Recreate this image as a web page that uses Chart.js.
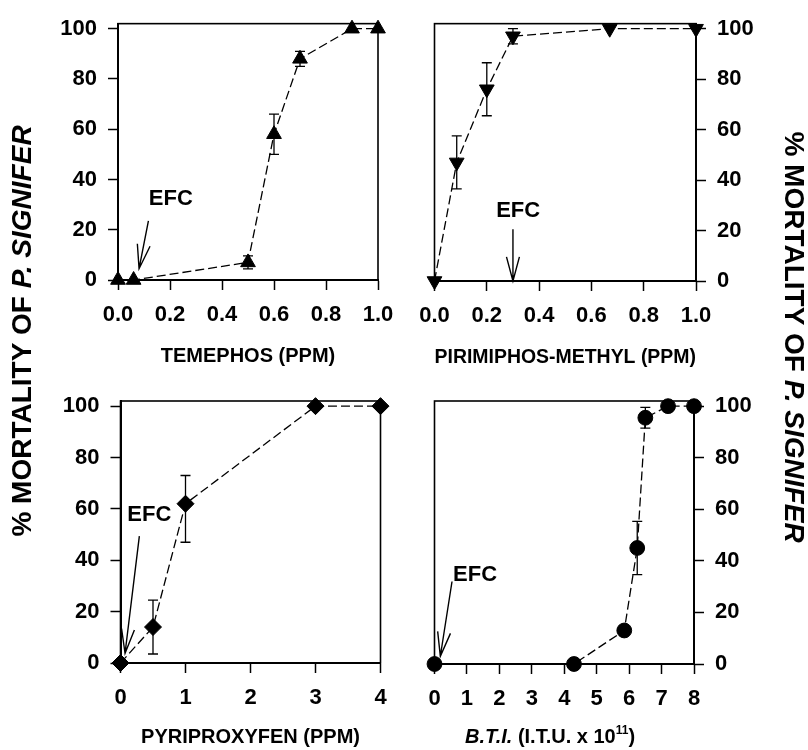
<!DOCTYPE html>
<html>
<head>
<meta charset="utf-8">
<script src="https://cdn.jsdelivr.net/npm/chart.js@4.4.0/dist/chart.umd.min.js"></script>
<style>
html,body{margin:0;padding:0;background:#fff;}
#wrap{position:relative;width:808px;height:750px;background:#fff;}
canvas{position:absolute;left:0;top:0;}
</style>
</head>
<body>
<div id="wrap">
<canvas id="c1" width="808" height="750"></canvas>
<canvas id="c2" width="808" height="750"></canvas>
<canvas id="c3" width="808" height="750"></canvas>
<canvas id="c4" width="808" height="750"></canvas>
</div>
<script>
// ---------- data ----------
const temephosX   = [0, 0.06, 0.5, 0.6, 0.7, 0.9, 1.0];
const temephosY   = [0, 0, 7, 58, 88, 100, 100];
const temephosErr = [0, 0, 2.6, 8, 3, 0, 0];

const pirimiphosX   = [0, 0.085, 0.2, 0.3, 0.67, 1.0];
const pirimiphosY   = [0, 47, 76, 97, 100, 100];
const pirimiphosErr = [0, 10.5, 10.5, 3, 0, 0];

const pyriproxyfenX       = [0, 0.5, 1, 3, 4];
const pyriproxyfenY       = [0, 14, 62, 100, 100];
const pyriproxyfenErrUp   = [0, 10.5, 11, 0, 0];
const pyriproxyfenErrDown = [0, 10.5, 15, 0, 0];

const btiX   = [0, 4.3, 5.85, 6.25, 6.5, 7.2, 8];
const btiY   = [0, 0, 13, 45, 95.5, 100, 100];
const btiErr = [0, 0, 0, 10.3, 4, 0, 0];

const mortalityTicks    = [0, 20, 40, 60, 80, 100];
const temephosTicks     = [0, 0.2, 0.4, 0.6, 0.8, 1.0];
const pirimiphosTicks   = [0, 0.2, 0.4, 0.6, 0.8, 1.0];
const pyriproxyfenTicks = [0, 1, 2, 3, 4];
const btiTicks          = [0, 1, 2, 3, 4, 5, 6, 7, 8];

const yTitleMain   = '% MORTALITY OF ';
const yTitleItalic = 'P. SIGNIFER';
// ---------------------------------------------------

const FONT = "'Liberation Sans', Arial, Helvetica, sans-serif";
Chart.defaults.font.family = FONT;
Chart.defaults.color = '#000';

function drawArrow(ctx, x1, y1, x2, y2) {
  ctx.save();
  ctx.strokeStyle = '#000';
  ctx.lineWidth = 1.4;
  ctx.beginPath();
  ctx.moveTo(x1, y1); ctx.lineTo(x2, y2);
  const ang = Math.atan2(y1 - y2, x1 - x2);
  const L = 25, a = 15 * Math.PI / 180;
  ctx.moveTo(x2 + L * Math.cos(ang - a), y2 + L * Math.sin(ang - a));
  ctx.lineTo(x2, y2);
  ctx.lineTo(x2 + L * Math.cos(ang + a), y2 + L * Math.sin(ang + a));
  ctx.stroke();
  ctx.restore();
}

function drawRichText(ctx, parts, cx, y, align) {
  let total = 0;
  parts.forEach(p => { ctx.font = p.font; p.w = ctx.measureText(p.text).width; total += p.w; });
  let x = align === 'center' ? cx - total / 2 : cx;
  parts.forEach(p => {
    ctx.font = p.font;
    ctx.fillText(p.text, x, y + (p.dy || 0));
    x += p.w;
  });
}

function makePanel(id, cfg) {
  const ctx = document.getElementById(id);
  const extras = {
    id: 'extras',
    beforeDatasetsDraw(chart) {
      const c = chart.ctx, ca = chart.chartArea;
      const xs = chart.scales.x, ys = chart.scales.y;
      c.save();
      c.strokeStyle = '#000';
      c.lineWidth = 1.6;
      c.strokeRect(ca.left, ca.top, ca.right - ca.left, ca.bottom - ca.top);
      c.lineWidth = 1.3;
      cfg.xs.forEach((xv, i) => {
        const up = cfg.errUp[i], dn = cfg.errDown[i];
        if (!up && !dn) return;
        const px = xs.getPixelForValue(xv);
        const pt = ys.getPixelForValue(cfg.ys[i] + up);
        const pb = ys.getPixelForValue(cfg.ys[i] - dn);
        c.beginPath();
        c.moveTo(px, pt); c.lineTo(px, pb);
        c.moveTo(px - 5, pt); c.lineTo(px + 5, pt);
        c.moveTo(px - 5, pb); c.lineTo(px + 5, pb);
        c.stroke();
      });
      c.restore();
    },
    afterDraw(chart) {
      const c = chart.ctx;
      const xs = chart.scales.x, ys = chart.scales.y;
      const e = cfg.efc;
      c.save();
      c.fillStyle = '#000';
      c.font = 'bold 22px ' + FONT;
      c.textAlign = 'center';
      c.textBaseline = 'middle';
      c.fillText('EFC', xs.getPixelForValue(e.label[0]), ys.getPixelForValue(e.label[1]));
      drawArrow(c, xs.getPixelForValue(e.tail[0]), ys.getPixelForValue(e.tail[1]),
                   xs.getPixelForValue(e.tip[0]), ys.getPixelForValue(e.tip[1]));
      if (cfg.after) cfg.after(c, chart);
      c.restore();
    }
  };
  return new Chart(ctx, {
    type: 'scatter',
    data: {
      datasets: [{
        data: cfg.xs.map((x, i) => ({ x: x, y: cfg.ys[i] })),
        showLine: true,
        borderColor: '#000',
        borderWidth: 1.3,
        borderDash: [9, 4],
        tension: 0,
        pointStyle: cfg.pointStyle,
        pointRotation: cfg.rotation || 0,
        pointRadius: cfg.radius,
        pointBackgroundColor: '#000',
        pointBorderColor: '#000',
        pointBorderWidth: 1,
        clip: false
      }]
    },
    options: {
      responsive: false,
      animation: false,
      devicePixelRatio: 1,
      events: [],
      layout: { padding: cfg.pad },
      plugins: { legend: { display: false }, tooltip: { enabled: false } },
      scales: {
        x: {
          type: 'linear', position: 'bottom', min: 0, max: cfg.xMax,
          afterBuildTicks: s => { s.ticks = cfg.xTicks.map(v => ({ value: v })); },
          afterFit: s => { s.height = cfg.xHeight; },
          ticks: {
            autoSkip: false, maxRotation: 0, minRotation: 0, padding: 12, color: '#000',
            font: { size: 22, weight: 'bold', lineHeight: 1.15 },
            callback: v => cfg.decimals ? Number(v).toFixed(cfg.decimals) : String(v)
          },
          grid: { display: true, drawOnChartArea: false, drawTicks: true, tickLength: 10,
                  tickColor: '#000', tickWidth: 1.5 },
          border: { display: true, color: '#000', width: 2 },
          title: cfg.title ? {
            display: true, text: cfg.title, color: '#000',
            font: { size: 20, weight: 'bold', lineHeight: 1.2 },
            padding: { top: 0, bottom: cfg.titlePad }
          } : { display: false }
        },
        y: {
          type: 'linear', position: cfg.yPos, min: 0, max: 102,
          afterBuildTicks: s => { s.ticks = mortalityTicks.map(v => ({ value: v })); },
          afterFit: s => { s.width = 80; },
          ticks: { padding: 11, color: '#000', font: { size: 22, weight: 'bold', lineHeight: 1.15 } },
          grid: { display: true, drawOnChartArea: false, drawTicks: true, tickLength: 10,
                  tickColor: '#000', tickWidth: 1.5 },
          border: { display: true, color: '#000', width: 2 }
        }
      }
    },
    plugins: [extras]
  });
}

makePanel('c1', {
  xs: temephosX, ys: temephosY, errUp: temephosErr, errDown: temephosErr,
  xTicks: temephosTicks, xMax: 1.0, decimals: 1,
  pointStyle: 'triangle', radius: 8.5,
  yPos: 'left', pad: { left: 38, right: 430, top: 17, bottom: 380 }, xHeight: 90,
  title: 'TEMEPHOS (PPM)', titlePad: 2,
  efc: { label: [0.203, 32.3], tail: [0.117, 23.5], tip: [0.081, 4.5] },
  after: (c) => {
    c.save();
    c.translate(23, 331);
    c.rotate(-Math.PI / 2);
    c.textBaseline = 'middle';
    c.textAlign = 'left';
    drawRichText(c, [
      { text: yTitleMain, font: 'bold 28px ' + FONT },
      { text: yTitleItalic, font: 'italic bold 28px ' + FONT }
    ], 0, 0, 'center');
    c.restore();
  }
});

makePanel('c2', {
  xs: pirimiphosX, ys: pirimiphosY, errUp: pirimiphosErr, errDown: pirimiphosErr,
  xTicks: pirimiphosTicks, xMax: 1.0, decimals: 1,
  pointStyle: 'triangle', rotation: 180, radius: 8.5,
  yPos: 'right', pad: { left: 434.5, right: 32, top: 19, bottom: 379 }, xHeight: 90,
  title: 'PIRIMIPHOS-METHYL (PPM)', titlePad: 2,
  efc: { label: [0.32, 27.7], tail: [0.30, 20.5], tip: [0.30, 0] },
  after: (c) => {
    c.save();
    c.translate(793, 337);
    c.rotate(Math.PI / 2);
    c.textBaseline = 'middle';
    c.textAlign = 'left';
    drawRichText(c, [
      { text: yTitleMain, font: 'bold 28px ' + FONT },
      { text: yTitleItalic, font: 'italic bold 28px ' + FONT }
    ], 0, 0, 'center');
    c.restore();
  }
});

makePanel('c3', {
  xs: pyriproxyfenX, ys: pyriproxyfenY, errUp: pyriproxyfenErrUp, errDown: pyriproxyfenErrDown,
  xTicks: pyriproxyfenTicks, xMax: 4, decimals: 0,
  pointStyle: 'rectRot', radius: 8.5,
  yPos: 'left', pad: { left: 40.5, right: 427.5, top: 401, bottom: 0 }, xHeight: 87,
  title: 'PYRIPROXYFEN (PPM)', titlePad: 1,
  efc: { label: [0.443, 57.6], tail: [0.29, 49.4], tip: [0.07, 3.8] }
});

makePanel('c4', {
  xs: btiX, ys: btiY, errUp: btiErr, errDown: btiErr,
  xTicks: btiTicks, xMax: 8, decimals: 0,
  pointStyle: 'circle', radius: 7.4,
  yPos: 'right', pad: { left: 434.5, right: 34, top: 401, bottom: 0 }, xHeight: 86,
  title: null,
  efc: { label: [1.25, 34.4], tail: [0.54, 32], tip: [0.18, 3] },
  after: (c) => {
    c.save();
    c.fillStyle = '#000';
    c.textBaseline = 'alphabetic';
    c.textAlign = 'left';
    drawRichText(c, [
      { text: 'B.T.I.', font: 'italic bold 20px ' + FONT },
      { text: ' (I.T.U. x 10', font: 'bold 20px ' + FONT },
      { text: '11', font: 'bold 12px ' + FONT, dy: -9 },
      { text: ')', font: 'bold 20px ' + FONT }
    ], 550, 743, 'center');
    c.restore();
  }
});
</script>
</body>
</html>
